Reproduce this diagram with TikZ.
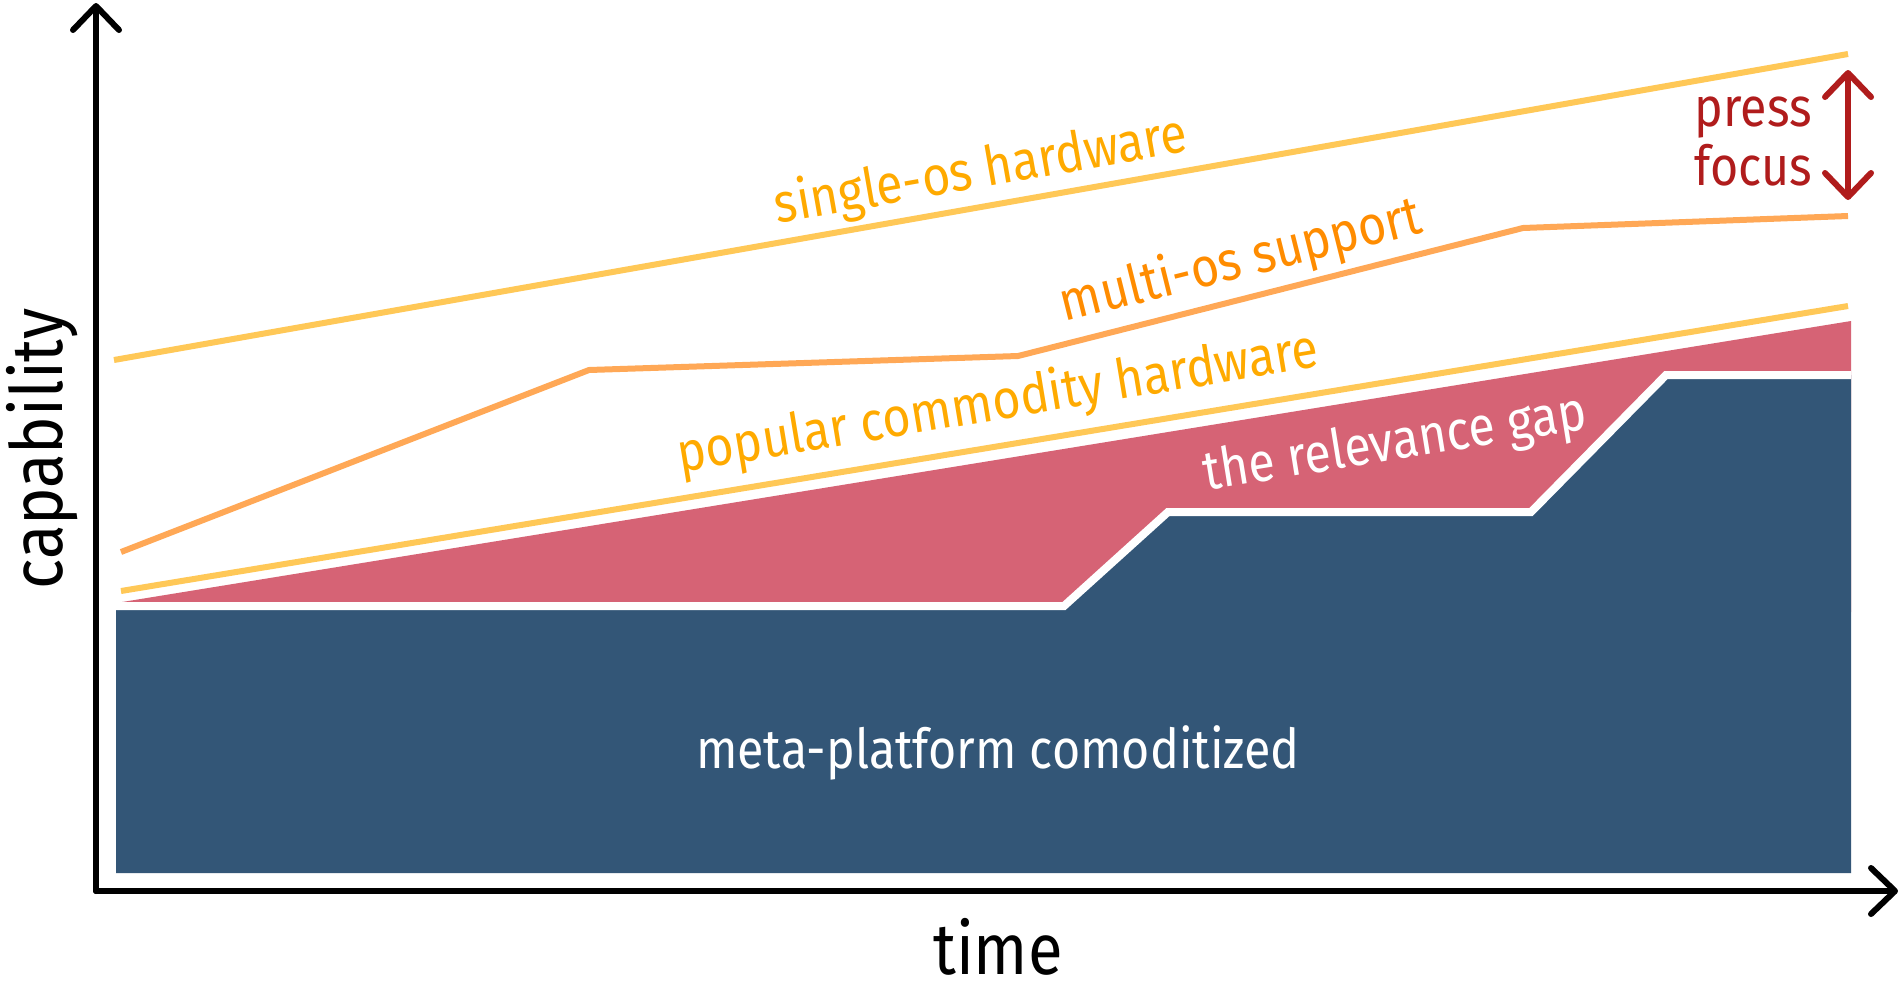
\documentclass[tikz,border=0pt]{standalone}
\usepackage{fontspec}
\setmainfont{Fira Sans}[FakeStretch=0.88]
\usetikzlibrary{arrows.meta}
\definecolor{areablue}{HTML}{335677}
\definecolor{areared}{HTML}{D66375}
\definecolor{lineyellow}{HTML}{FFC857}
\definecolor{lineorange}{HTML}{FFA856}
\definecolor{textyellow}{HTML}{FFAA00}
\definecolor{textorange}{HTML}{FF8C00}
\definecolor{pressred}{HTML}{B01C1C}
\tikzset{
  axisline/.style={line width=6pt, line cap=round, -{Straight Barb[length=24pt,width=46pt,round]}},
  trendline/.style={line width=6pt},
  lab/.style={inner sep=0pt, font=\fontsize{55}{59}\selectfont},
  biglab/.style={inner sep=0pt, font=\fontsize{72}{80}\selectfont},
  pressarrow/.style={line width=6pt, draw=pressred, line cap=round, {Straight Barb[length=24pt,width=46pt,round]}-{Straight Barb[length=24pt,width=46pt,round]}}
}
\begin{document}
\begin{tikzpicture}[x=1pt,y=-1pt]
\useasboundingbox[fill=white] (0,0) rectangle (1902,1005);

% areas
\fill[areared] (116,603) -- (1851,321) -- (1851,612) -- (116,612) -- cycle;
\fill[areablue] (116,606) -- (1064,606) -- (1168,512) -- (1531,512) -- (1666,375) -- (1851,375) -- (1851,873) -- (116,873) -- cycle;
\draw[white, line width=8pt, line join=miter] (116,606) -- (1064,606) -- (1168,512) -- (1531,512) -- (1666,375) -- (1851,375);

% trend lines
\draw[trendline, lineyellow] (114,360) -- (1848,54);
\draw[trendline, lineorange, line join=miter] (121,552) -- (589,370) -- (1018,356) -- (1523,228) -- (1848,216);
\draw[trendline, lineyellow] (121,591) -- (1848,306);

% axes
\coordinate (origin) at (96,891);
\coordinate (ytop) at (96,3);
\coordinate (xend) at (1898,891);
\draw[axisline] (origin) -- (ytop);
\draw[axisline] (origin) -- (xend);

% labels
\node[lab, text=textyellow, rotate=10] (single) at (981,172) {single-os hardware};
\node[lab, text=textorange, rotate=14] (multi) at (1241,262) {multi-os support};
\node[lab, text=textyellow, rotate=9.4] (popular) at (998,404) {popular commodity hardware};
\node[lab, text=white, rotate=9.2] (gap) at (1395,445) {the relevance gap};
\node[lab, text=white, anchor=base] (meta) at (998,768) {meta-platform comoditized};
\node[biglab, anchor=base] (time) at (998,974) {time};
\node[biglab, anchor=base, rotate=90] (cap) at (62,449) {capability};
\node[lab, text=pressred, anchor=base east] (press) at (1812,126) {press};
\node[lab, text=pressred, anchor=base east] (focus) at (1812,185) {focus};

% press focus arrow
\coordinate (pftop) at (1848,70);
\coordinate (pfbot) at (1848,200);
\draw[pressarrow] (pftop) -- (pfbot);
\end{tikzpicture}
\end{document}
